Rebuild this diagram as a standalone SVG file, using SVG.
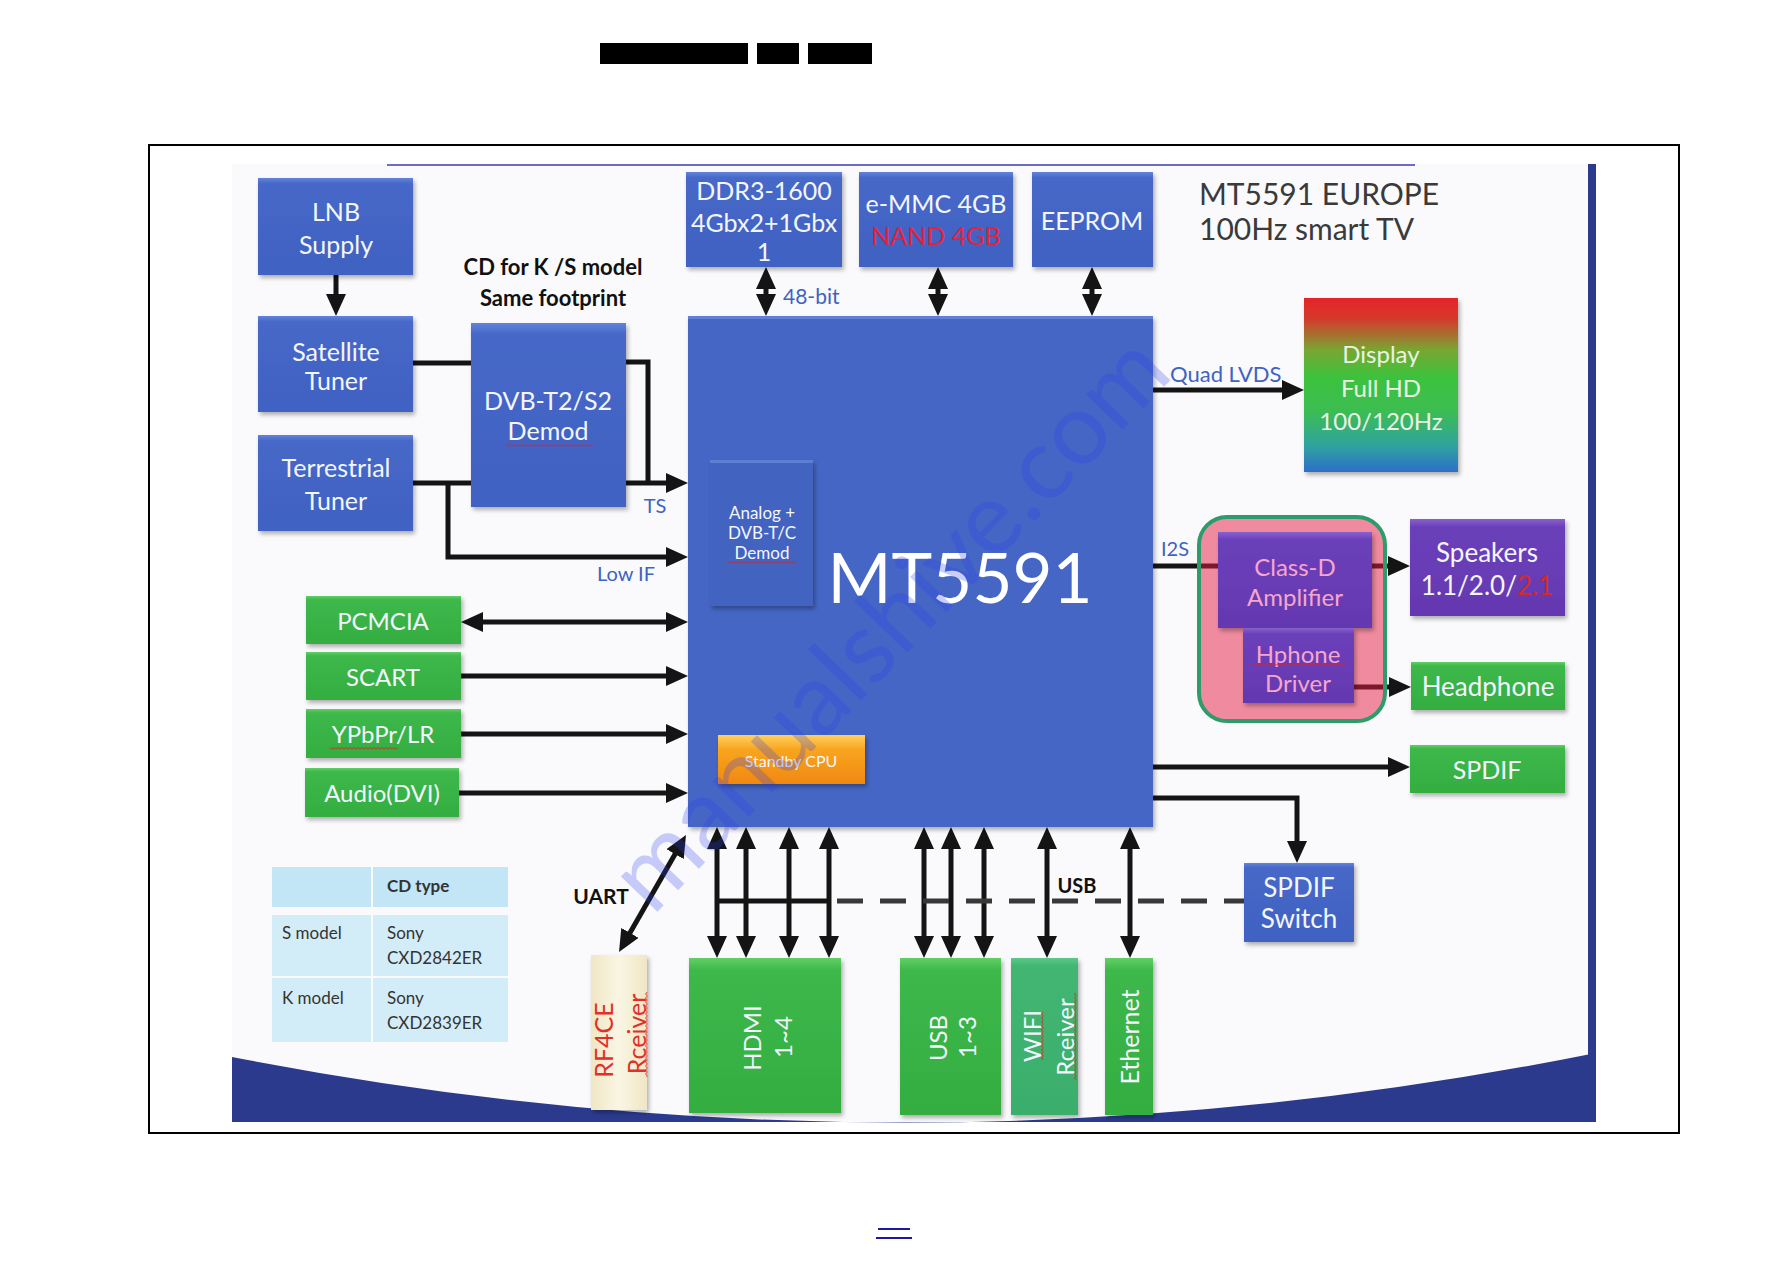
<svg xmlns="http://www.w3.org/2000/svg" width="1787" height="1263" viewBox="0 0 1787 1263">
<defs>
<style>
text { font-family: Lato, "Noto Sans", "Liberation Sans", sans-serif; }
.w { fill:#F4F6FD; font-size:25px; text-anchor:middle; dominant-baseline:central; }
.pk { fill:#F6A6CC; font-size:24px; text-anchor:middle; dominant-baseline:central; }
.lbl { fill:#3E63C2; font-size:21px; dominant-baseline:central; }
.bold { fill:#111; font-weight:700; font-size:21px; text-anchor:middle; dominant-baseline:central; }
.tt { fill:#333; font-size:17px; dominant-baseline:central; }
.c { fill:none; stroke:#141414; stroke-width:5; }
.a1 { marker-end:url(#ah); }
.a2 { marker-start:url(#ah); marker-end:url(#ah); }
.blue { fill:url(#gBlue); filter:url(#sh); }
.green { fill:url(#gGreen); filter:url(#sh); }
.purple { fill:url(#gPurple); filter:url(#sh); }
.cell { fill:#D3EDF8; }
.head { fill:#C2E6F5; }
.sq { fill:url(#sq); }
</style>
<marker id="ah" viewBox="0 0 22 20" refX="14" refY="10" markerWidth="22" markerHeight="20" markerUnits="userSpaceOnUse" orient="auto-start-reverse">
<path d="M0,0 L22,10 L0,20 z" fill="#141414"/>
</marker>
<filter id="sh" x="-10%" y="-10%" width="130%" height="130%">
<feDropShadow dx="2" dy="3" stdDeviation="2" flood-color="#000" flood-opacity="0.3"/>
</filter>
<linearGradient id="gBlue" x1="0" y1="0" x2="0" y2="1">
<stop offset="0" stop-color="#6284DA"/><stop offset="0.06" stop-color="#4668C8"/><stop offset="1" stop-color="#4062C2"/>
</linearGradient>
<linearGradient id="gGreen" x1="0" y1="0" x2="0" y2="1">
<stop offset="0" stop-color="#62CF66"/><stop offset="0.08" stop-color="#3DB84A"/><stop offset="1" stop-color="#34AD41"/>
</linearGradient>
<linearGradient id="gTeal" x1="0" y1="0" x2="0" y2="1">
<stop offset="0" stop-color="#5CC88A"/><stop offset="0.05" stop-color="#43B673"/><stop offset="1" stop-color="#3AAE6C"/>
</linearGradient>
<linearGradient id="gPurple" x1="0" y1="0" x2="0" y2="1">
<stop offset="0" stop-color="#8862CC"/><stop offset="0.08" stop-color="#6B40BA"/><stop offset="1" stop-color="#6438B0"/>
</linearGradient>
<linearGradient id="gOrange" x1="0" y1="0" x2="0" y2="1">
<stop offset="0" stop-color="#FFD060"/><stop offset="0.3" stop-color="#F9A51E"/><stop offset="1" stop-color="#F08810"/>
</linearGradient>
<linearGradient id="gCream" x1="0" y1="0" x2="1" y2="0">
<stop offset="0" stop-color="#EFE6C4"/><stop offset="0.5" stop-color="#FAF6E4"/><stop offset="1" stop-color="#EFE6C4"/>
</linearGradient>
<linearGradient id="gDisp" x1="0" y1="0" x2="0" y2="1">
<stop offset="0" stop-color="#E62428"/><stop offset="0.12" stop-color="#D43A2C"/><stop offset="0.3" stop-color="#78A632"/><stop offset="0.45" stop-color="#3EC23C"/><stop offset="0.65" stop-color="#3CBD52"/><stop offset="0.85" stop-color="#2FA3A0"/><stop offset="1" stop-color="#2E6FC8"/>
</linearGradient>
<pattern id="sq" width="4" height="3" patternUnits="userSpaceOnUse">
<path d="M0,2.5 L2,0.5 L4,2.5" stroke="#E02020" stroke-width="1" fill="none"/>
</pattern>
</defs>

<rect width="1787" height="1263" fill="#FFFFFF"/>

<g id="page">
<rect x="600" y="43" width="148" height="21" fill="#000"/>
<rect x="757" y="43" width="42" height="21" fill="#000"/>
<rect x="808" y="43" width="64" height="21" fill="#000"/>
<rect x="149" y="145" width="1530" height="988" fill="none" stroke="#000" stroke-width="2"/>
<line x1="878" y1="1229" x2="910" y2="1229" stroke="#1A1AA0" stroke-width="2"/>
<line x1="876" y1="1238" x2="912" y2="1238" stroke="#1A1AA0" stroke-width="2"/>
</g>

<g id="slide">
<rect x="232" y="164" width="1364" height="958" fill="#FAFAFC"/>
<line x1="387" y1="165" x2="1415" y2="165" stroke="#6C6CC8" stroke-width="2"/>
<rect x="1588" y="164" width="8" height="958" fill="#2C3A8E"/>
<path d="M232,1057 Q914,1190 1596,1053 L1596,1122 L232,1122 Z" fill="#2C3A8E"/>
</g>

<g id="connectors">
<path class="c a1" d="M336,275 V308"/>
<path class="c" d="M413,363 H471"/>
<path class="c" d="M413,483 H471"/>
<path class="c" d="M626,362 H648 V483"/>
<path class="c a1" d="M626,483 H680"/>
<path class="c a1" d="M448,483 V557 H680"/>
<path class="c a2" d="M766,275 V308"/>
<path class="c a2" d="M938,275 V308"/>
<path class="c a2" d="M1092,275 V308"/>
<path class="c a1" d="M1153,390 H1296"/>
<path class="c" d="M1153,566 H1218"/>
<path class="c a1" d="M1372,566 H1402"/>
<path class="c a1" d="M1354,687 H1403"/>
<path class="c a1" d="M1153,767 H1402"/>
<path class="c a1" d="M1153,798 H1297 V855"/>
<path class="c a2" d="M469,622 H680"/>
<path class="c a1" d="M461,676 H680"/>
<path class="c a1" d="M461,734 H680"/>
<path class="c a1" d="M459,793 H680"/>
<path class="c a2" d="M623,945 L682,842"/>
<path class="c a2" d="M717,835 V950"/>
<path class="c a2" d="M746,835 V950"/>
<path class="c a2" d="M789,835 V950"/>
<path class="c a2" d="M829,835 V950"/>
<path class="c a2" d="M924,835 V950"/>
<path class="c a2" d="M951,835 V950"/>
<path class="c a2" d="M984,835 V950"/>
<path class="c a2" d="M1047,835 V950"/>
<path class="c a2" d="M1130,835 V950"/>
<path class="c" d="M717,901 H829"/>
<path d="M829,901 H1244" fill="none" stroke="#383838" stroke-width="5" stroke-dasharray="26 17" stroke-dashoffset="-8"/>
<text class="lbl" x="783" y="295">48-bit</text>
<text class="lbl" x="1170" y="373" style="font-size:22px">Quad LVDS</text>
<text class="lbl" x="655" y="505" text-anchor="middle" style="font-size:20px">TS</text>
<text class="lbl" x="626" y="573" text-anchor="middle" style="font-size:20px">Low IF</text>
<text class="lbl" x="1161" y="548" style="font-size:20px">I2S</text>
<text class="bold" x="1077" y="885" style="font-size:20px">USB</text>
<text class="bold" x="601" y="895">UART</text>
</g>

<g id="title">
<text x="1199" y="193" fill="#3A3A3A" font-size="30" dominant-baseline="central">MT5591 EUROPE</text>
<text x="1199" y="228" fill="#3A3A3A" font-size="30" dominant-baseline="central">100Hz smart TV</text>
</g>

<g id="cd-note">
<text class="bold" x="553" y="266" style="font-size:22px">CD for K /S model</text>
<text class="bold" x="553" y="297" style="font-size:22px">Same footprint</text>
</g>

<g id="lnb">
<rect class="blue" x="258" y="178" width="155" height="97"/>
<text class="w" x="336" y="211">LNB</text>
<text class="w" x="336" y="244">Supply</text>
</g>
<g id="satellite-tuner">
<rect class="blue" x="258" y="316" width="155" height="96"/>
<text class="w" x="336" y="351">Satellite</text>
<text class="w" x="336" y="380">Tuner</text>
</g>
<g id="terrestrial-tuner">
<rect class="blue" x="258" y="435" width="155" height="96"/>
<text class="w" x="336" y="467">Terrestrial</text>
<text class="w" x="336" y="500">Tuner</text>
</g>
<g id="dvb-demod">
<rect class="blue" x="471" y="323" width="155" height="184"/>
<text class="w" x="548" y="400">DVB-T2/S2</text>
<text class="w" x="548" y="430">Demod</text>
<rect class="sq" x="506" y="444" width="87" height="3"/>
</g>

<g id="ddr3">
<rect class="blue" x="686" y="172" width="156" height="95"/>
<text class="w" x="764" y="190">DDR3-1600</text>
<text class="w" x="764" y="222">4Gbx2+1Gbx</text>
<text class="w" x="764" y="251">1</text>
</g>
<g id="emmc">
<rect class="blue" x="859" y="172" width="154" height="95"/>
<text class="w" x="936" y="203">e-MMC 4GB</text>
<text class="w" x="936" y="235" style="fill:#E8203A">NAND 4GB</text>
</g>
<g id="eeprom">
<rect class="blue" x="1032" y="172" width="121" height="95"/>
<text class="w" x="1092" y="220">EEPROM</text>
</g>

<g id="mt5591">
<rect x="688" y="316" width="465" height="511" fill="#4566C4" filter="url(#sh)"/>
<rect x="688" y="316" width="465" height="3" fill="#5F80D6"/>
<text x="960" y="576" fill="#FFFFFF" font-size="69" text-anchor="middle" dominant-baseline="central">MT5591</text>
</g>
<g id="analog-demod">
<rect x="710" y="460" width="103" height="146" fill="#4363C0" filter="url(#sh)"/>
<rect x="710" y="460" width="103" height="3" fill="#5E7ED4"/>
<text class="w" x="762" y="512" style="font-size:17px">Analog +</text>
<text class="w" x="762" y="532" style="font-size:17px">DVB-T/C</text>
<text class="w" x="762" y="552" style="font-size:17px">Demod</text>
<rect class="sq" x="727" y="561" width="68" height="3"/>
</g>
<g id="standby-cpu">
<rect x="718" y="735" width="147" height="49" fill="url(#gOrange)" filter="url(#sh)"/>
<text class="w" x="791" y="760" style="font-size:16px">Standby CPU</text>
</g>

<g id="display">
<rect x="1304" y="298" width="154" height="174" fill="url(#gDisp)" filter="url(#sh)"/>
<text class="w" x="1381" y="353" style="fill:#EAF4E0;font-size:24px">Display</text>
<text class="w" x="1381" y="387" style="fill:#EAF4E0;font-size:24px">Full HD</text>
<text class="w" x="1381" y="420" style="fill:#EAF4E0;font-size:24px">100/120Hz</text>
</g>

<g id="audio-block">
<rect x="1199" y="517" width="186" height="204" rx="28" fill="#E51941" fill-opacity="0.5" stroke="#2E9C6A" stroke-width="4"/>
</g>
<g id="class-d">
<rect class="purple" x="1218" y="532" width="154" height="96"/>
<text class="pk" x="1295" y="566">Class-D</text>
<text class="pk" x="1295" y="596">Amplifier</text>
</g>
<g id="hphone-driver">
<rect class="purple" x="1243" y="628" width="111" height="75"/>
<text class="pk" x="1298" y="653">Hphone</text>
<text class="pk" x="1298" y="682">Driver</text>
<rect class="sq" x="1254" y="663" width="91" height="3"/>
</g>
<g id="speakers">
<rect class="purple" x="1410" y="519" width="155" height="97"/>
<text class="w" x="1487" y="552" style="font-size:26px">Speakers</text>
<text class="w" x="1487" y="585" style="font-size:26px">1.1/2.0/<tspan fill="#D42A2A">2.1</tspan></text>
</g>
<g id="headphone">
<rect class="green" x="1411" y="662" width="154" height="48"/>
<text class="w" x="1488" y="686" style="font-size:26px">Headphone</text>
</g>
<g id="spdif">
<rect class="green" x="1410" y="745" width="155" height="48"/>
<text class="w" x="1487" y="769">SPDIF</text>
</g>
<g id="spdif-switch">
<rect class="blue" x="1244" y="863" width="110" height="79"/>
<text class="w" x="1299" y="887" style="font-size:26px">SPDIF</text>
<text class="w" x="1299" y="918" style="font-size:26px">Switch</text>
</g>

<g id="pcmcia">
<rect class="green" x="306" y="596" width="155" height="48"/>
<text class="w" x="383" y="620" style="font-size:24px">PCMCIA</text>
</g>
<g id="scart">
<rect class="green" x="306" y="652" width="155" height="48"/>
<text class="w" x="383" y="676" style="font-size:24px">SCART</text>
</g>
<g id="ypbpr">
<rect class="green" x="306" y="709" width="155" height="49"/>
<text class="w" x="383" y="733" style="font-size:24px">YPbPr/LR</text>
<rect class="sq" x="330" y="747" width="68" height="3"/>
</g>
<g id="audio-dvi">
<rect class="green" x="305" y="768" width="154" height="49"/>
<text class="w" x="382" y="792" style="font-size:24px">Audio(DVI)</text>
</g>

<g id="cd-table">
<rect class="head" x="272" y="867" width="99" height="40"/>
<rect class="head" x="373" y="867" width="135" height="40"/>
<rect class="cell" x="272" y="915" width="99" height="61"/>
<rect class="cell" x="373" y="915" width="135" height="61"/>
<rect class="cell" x="272" y="978" width="99" height="64"/>
<rect class="cell" x="373" y="978" width="135" height="64"/>
<text class="tt" x="387" y="885" font-weight="700">CD type</text>
<text class="tt" x="282" y="932">S model</text>
<text class="tt" x="387" y="932">Sony</text>
<text class="tt" x="387" y="957">CXD2842ER</text>
<text class="tt" x="282" y="997">K model</text>
<text class="tt" x="387" y="997">Sony</text>
<text class="tt" x="387" y="1022">CXD2839ER</text>
</g>

<g id="rf4ce">
<rect x="591" y="955" width="56" height="155" fill="url(#gCream)" filter="url(#sh)"/>
<text class="w" transform="translate(603,1040) rotate(-90)" style="fill:#E0302A">RF4CE</text>
<text class="w" transform="translate(636,1034) rotate(-90)" style="fill:#E0302A">Rceiver</text>
<rect class="sq" transform="rotate(-90)" x="-1077" y="645" width="85" height="3"/>
</g>
<g id="hdmi">
<rect class="green" x="689" y="958" width="152" height="155"/>
<text class="w" transform="translate(751,1038) rotate(-90)" style="font-size:24px">HDMI</text>
<text class="w" transform="translate(782,1037) rotate(-90)" style="font-size:24px">1~4</text>
</g>
<g id="usb">
<rect class="green" x="900" y="958" width="101" height="157"/>
<text class="w" transform="translate(937,1038) rotate(-90)" style="font-size:24px">USB</text>
<text class="w" transform="translate(966,1037) rotate(-90)" style="font-size:24px">1~3</text>
</g>
<g id="wifi">
<rect x="1011" y="958" width="67" height="157" fill="url(#gTeal)" filter="url(#sh)"/>
<text class="w" transform="translate(1031,1036) rotate(-90)" style="font-size:24px">WIFI</text>
<text class="w" transform="translate(1064,1037) rotate(-90)" style="font-size:24px">Rceiver</text>
<rect class="sq" transform="rotate(-90)" x="-1060" y="1041" width="48" height="3"/>
<rect class="sq" transform="rotate(-90)" x="-1080" y="1074" width="87" height="3"/>
</g>
<g id="ethernet">
<rect class="green" x="1105" y="958" width="48" height="157"/>
<text class="w" transform="translate(1129,1037) rotate(-90)" style="font-size:25px">Ethernet</text>
</g>

<g id="watermark">
<text transform="translate(895,628) rotate(-46)" x="0" y="26" text-anchor="middle" font-family="'Liberation Sans', Arial, sans-serif" font-size="100" fill="#2A3CF0" fill-opacity="0.25">manualshive.com</text>
</g>
</svg>
